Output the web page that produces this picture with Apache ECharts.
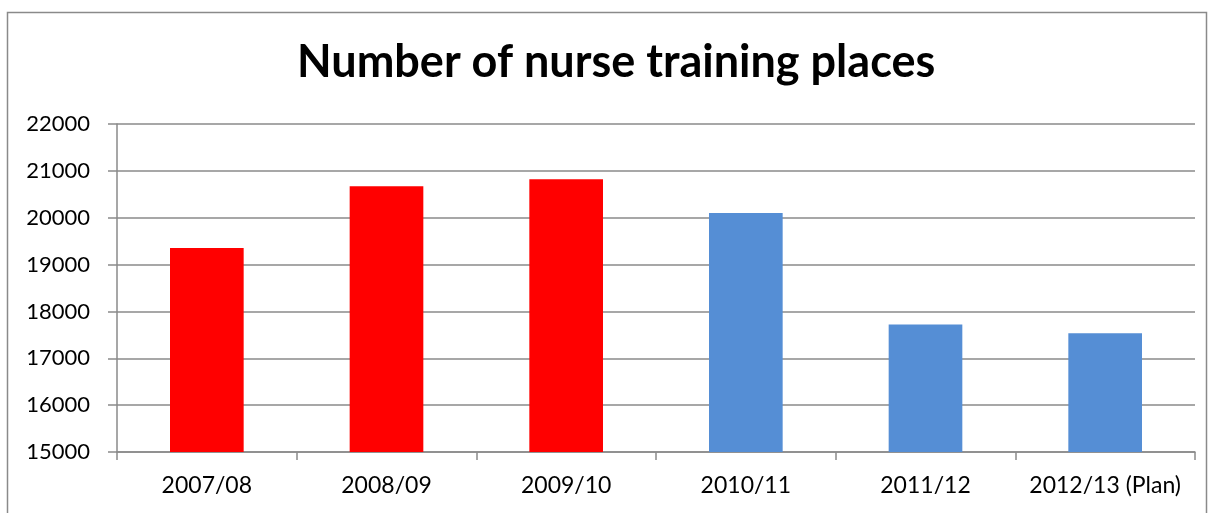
<!DOCTYPE html>
<html>
<head>
<meta charset="utf-8">
<script src="https://cdn.jsdelivr.net/npm/echarts@6/dist/echarts.min.js"></script>
<style>
  html, body { margin: 0; padding: 0; background: #fff; }
  #chart { width: 1214px; height: 513px; }
</style>
</head>
<body>
<div id="chart"></div>
<script>
// nurse training places per year
var categories = ['2007/08', '2008/09', '2009/10', '2010/11', '2011/12', '2012/13 (Plan)'];
var places = [19354, 20674, 20820, 20098, 17722, 17532];
var yTicks = [15000, 16000, 17000, 18000, 19000, 20000, 21000, 22000];

var fontName = 'Lato, "Open Sans", sans-serif';
var myChart = echarts.init(document.getElementById('chart'));

var option = {
  backgroundColor: '#fff',
  animation: false,
  title: {
    text: 'Number of nurse training places',
    left: 292,
    top: 35,
    textStyle: { fontFamily: fontName, fontWeight: 'bold', fontSize: 45, color: '#000' }
  },
  graphic: [{
    type: 'rect',
    shape: { x: 7.5, y: 12.5, width: 1199, height: 520 },
    style: { fill: 'none', stroke: '#8a8a8a', lineWidth: 1.5 },
    silent: true
  }],
  grid: { left: 117, right: 19, top: 124, bottom: 61 },
  xAxis: {
    type: 'category',
    data: categories,
    axisLine: { lineStyle: { color: '#8a8a8a', width: 1.5 } },
    axisTick: { show: true, alignWithLabel: false, length: 8, lineStyle: { color: '#8a8a8a', width: 1.5 } },
    axisLabel: { fontFamily: fontName, fontSize: 23, color: '#000', margin: 22, interval: 0 }
  },
  yAxis: {
    type: 'value',
    min: yTicks[0],
    max: yTicks[yTicks.length - 1],
    interval: 1000,
    axisLine: { show: true, lineStyle: { color: '#8a8a8a', width: 1.5 } },
    axisTick: { show: true, length: 9, lineStyle: { color: '#8a8a8a', width: 1.5 } },
    axisLabel: {
      fontFamily: fontName, fontSize: 22, color: '#000', margin: 27,
      formatter: function (v) { return String(v); }
    },
    splitLine: { lineStyle: { color: '#8a8a8a', width: 1.5 } }
  },
  series: [{
    name: 'Places',
    type: 'bar',
    data: places,
    barCategoryGap: '59%',
    itemStyle: {
      color: function (p) { return p.dataIndex < 3 ? '#ff0000' : '#558ed5'; }
    }
  }]
};
option && myChart.setOption(option);
</script>
</body>
</html>
